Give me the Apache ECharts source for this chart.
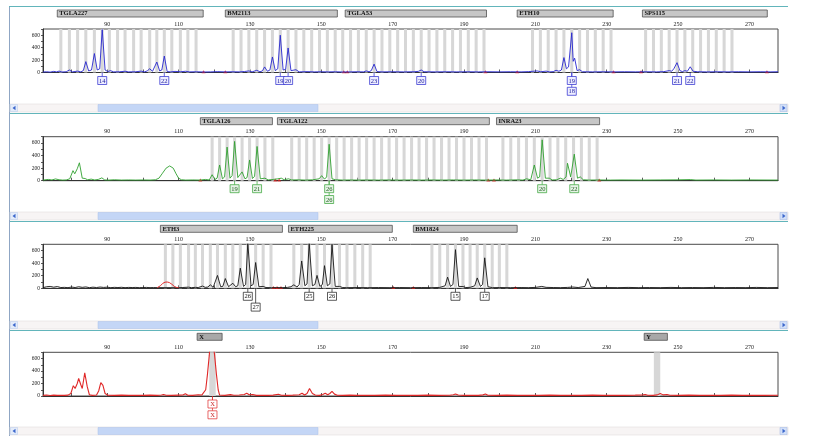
<!DOCTYPE html>
<html>
<head>
<meta charset="utf-8">
<script src="https://cdn.jsdelivr.net/npm/echarts@6/dist/echarts.min.js"></script>
<style>
html,body{margin:0;padding:0;background:#fff;}
#c{width:814px;height:436px;}
</style>
</head>
<body>
<div id="c"></div>
<script>
// ---------- axis data ----------
const X_MIN = 72, X_MAX = 278, Y_MAX = 700;
const xTickValues = [80,90,100,110,120,130,140,150,160,170,180,190,200,210,220,230,240,250,260,270];
const xLabelValues = [90,110,130,150,170,190,210,230,250,270];
const yLabelValues = [0,200,400,600];

// ---------- panel 1 (blue) ----------
const p1Loci = [['TGLA227',76.0,116.9],['BM2113',123.1,154.5],['TGLA53',156.7,196.3],['ETH10',204.9,231.8],['SPS115',240.0,275.0]];
const p1Bins = [77.0,79.4,81.7,84.0,86.4,88.6,90.6,92.9,95.0,97.4,99.5,101.9,103.9,106.0,108.1,110.5,112.6,114.9,
  125.3,127.5,129.7,131.9,134.1,136.3,138.5,140.7,142.9,145.1,147.3,149.5,151.7,153.9,
  156.0,158.2,160.4,162.6,164.8,167.0,169.2,171.4,173.6,175.8,178.0,180.2,182.4,184.6,186.8,189.0,191.2,193.4,195.6,
  209.2,211.4,213.6,215.8,218.0,220.2,222.4,224.6,226.8,229.0,231.2,
  240.9,243.1,245.3,247.5,249.7,251.9,254.1,256.3,258.5,260.7,262.9,265.1];
const p1Trace = [[72,8],[73,12],[74,6],[75,18],[75.8,10],[76.5,22],[77.3,8],[78.5,12],[79.4,40],[80.2,10],[81.7,22],[82.6,10],[83.3,30],[84.0,175],[84.8,25],[85.6,40],[86.4,305],[87.2,40],[87.9,60],[88.6,690],[89.4,40],[90.2,15],[90.9,30],[91.8,10],[93.5,12],[95.0,20],[96,10],[98,12],[99.5,22],[100.4,10],[101.2,25],[101.9,60],[102.7,20],[103.2,35],[103.9,168],[104.7,25],[105.3,40],[106.0,265],[106.8,15],[107.8,10],[109,18],[110.5,12],[112,20],[113,10],[115,12],[117,8],[119,10],[121,14],[123,10],[125,12],[127,10],[128.5,16],[129.7,25],[130.6,10],[131.9,35],[132.8,12],[133.5,25],[134.1,90],[134.9,20],[135.6,40],[136.3,250],[137.1,30],[137.8,60],[138.5,600],[139.3,40],[140,50],[140.7,395],[141.5,30],[142.9,45],[143.8,10],[146,14],[148,10],[150,12],[152,10],[154,12],[156,8],[158,10],[160,12],[161.8,10],[162.6,25],[163.4,12],[164.0,30],[164.8,135],[165.6,15],[167,10],[170,12],[173,10],[176,12],[177.2,18],[178.0,40],[178.8,12],[182,10],[185,12],[188,10],[191,12],[194,10],[197,12],[200,10],[203,12],[206,10],[208,14],[210.5,25],[211.5,12],[213,22],[214,10],[215.0,14],[215.8,35],[216.6,20],[217.3,40],[218.0,240],[218.7,60],[219.3,90],[219.7,60],[220.2,640],[220.6,180],[221.0,230],[221.7,30],[222.4,45],[223.2,12],[226,10],[229,12],[232,10],[235,12],[238,10],[241,12],[244,10],[246,14],[247.5,30],[248.2,20],[248.8,60],[249.7,158],[250.5,30],[251.2,15],[251.9,30],[252.6,20],[253.4,92],[254.2,20],[255.5,12],[258,10],[261,12],[264,10],[267,12],[270,10],[273,12],[276,10],[278,12]];
const p1Std = [117.0,123.1,156.3,157.3,196.0,204.9,231.9,239.6,274.9];
const p1Alleles = [[88.6,0,'14'],[106.0,0,'22'],[138.5,0,'19'],[140.7,0,'20'],[164.8,0,'23'],[178.0,0,'20'],[220.2,0,'19'],[220.2,1,'18'],[249.7,0,'21'],[253.4,0,'22']];

// ---------- panel 2 (green) ----------
const p2Loci = [['TGLA126',116.1,136.3],['TGLA122',137.7,197.1],['INRA23',199.1,228.0]];
const p2Bins = [119.4,121.5,123.6,125.7,127.8,129.9,132.0,134.2,136.4,
  141.7,143.8,145.9,148.0,150.1,152.2,154.3,156.4,158.5,160.6,162.7,164.8,166.9,169.0,171.1,173.2,175.3,177.4,179.5,181.6,183.7,185.8,187.9,190.0,192.1,194.2,196.3,
  200.9,203.1,205.3,207.5,209.7,211.9,214.1,216.3,218.5,220.7,222.9,225.1,227.3];
const p2Trace = [[72,10],[73.5,20],[74.5,12],[75.5,28],[76.5,15],[77.5,10],[78.5,12],[79.5,30],[80.4,160],[80.9,110],[81.6,190],[82.2,285],[83,40],[83.8,35],[84.5,15],[85.5,25],[86.5,12],[87.5,20],[88.5,45],[89.3,12],[90.5,10],[92,15],[94,10],[96,12],[98,10],[100,12],[102,10],[103.5,15],[104.5,40],[105.5,120],[106.5,200],[107.5,235],[108.5,200],[109.3,110],[110,40],[110.8,15],[112,10],[114,12],[116,10],[117.5,20],[118.6,12],[119.4,95],[120.2,20],[120.8,40],[121.5,250],[122.3,30],[122.9,60],[123.6,535],[124.4,40],[125.0,80],[125.7,625],[126.6,50],[127.8,140],[128.6,30],[129.2,50],[129.9,330],[130.7,35],[131.3,70],[132.0,545],[132.9,30],[134.2,40],[135.1,12],[136.5,20],[137.8,30],[138.8,40],[139.6,15],[140.8,30],[141.7,12],[143.5,14],[145.5,10],[147.5,14],[149.4,30],[150.1,80],[150.9,25],[151.5,60],[152.2,580],[153,30],[154,15],[156,10],[158,12],[160,10],[163,12],[166,10],[169,12],[172,10],[175,12],[178,10],[181,12],[184,10],[187,12],[190,10],[193,12],[196,10],[199,12],[202,10],[205,14],[206.5,10],[207.5,30],[208.7,15],[209.7,250],[210.6,40],[211.2,60],[211.9,650],[212.8,40],[213.9,40],[214.7,12],[216,15],[217.0,40],[217.8,20],[218.6,60],[219.0,278],[219.9,60],[220.9,422],[221.8,40],[222.6,60],[223.4,15],[225,10],[228,12],[231,10],[234,12],[240,10],[245,12],[250,14],[253.4,18],[255,10],[260,12],[265,10],[270,12],[278,10]];
const p2Std = [116.1,137.1,138.2,196.8,198.4,227.9];
const p2Alleles = [[125.7,0,'19'],[132.0,0,'21'],[152.2,0,'26'],[152.2,1,'26'],[211.9,0,'20'],[220.9,0,'22']];

// ---------- panel 3 (black) ----------
const p3Loci = [['ETH3',104.9,139.1],['ETH225',140.8,169.9],['BM1824',175.8,204.9]];
const p3Bins = [106.3,108.4,110.5,112.8,114.7,116.7,118.9,120.9,123.1,125.2,127.3,129.4,131.6,133.7,135.9,
  142.3,144.5,146.6,148.8,150.9,153.0,155.1,157.2,159.4,161.6,163.7,
  181.0,183.2,185.4,187.6,189.7,191.7,193.7,195.8,197.9,199.9,202.0];
const p3Trace = [[72,10],[73,25],[74,30],[75,18],[76,28],[77,12],[78,15],[79,10],[80,20],[81,12],[82,25],[83,15],[84,22],[85,10],[86,18],[87,12],[88,20],[89,14],[90,18],[91,10],[92,15],[93,12],[94,16],[95,10],[96,14],[97,12],[98,14],[99,10],[100,12],[101,14],[102,10],[103,12],[104,10],[110,10],[111,12],[112.8,18],[113.6,10],[114.7,15],[115.5,12],[116.7,35],[117.5,15],[118.2,20],[118.9,55],[119.7,15],[120.2,30],[120.9,205],[121.8,25],[122.4,30],[123.1,155],[124,25],[125.2,80],[126,25],[126.6,40],[127.3,320],[128.2,30],[128.8,60],[129.4,720],[130.3,40],[130.9,60],[131.6,410],[132.5,25],[133.7,30],[134.5,12],[136,10],[137.5,12],[139,10],[140.5,14],[141.5,25],[142.3,55],[143.2,20],[143.8,60],[144.5,435],[145.4,40],[146.0,70],[146.6,720],[147.5,40],[148.2,60],[148.8,205],[149.6,30],[150.3,60],[150.9,360],[151.7,40],[152.4,70],[153.0,700],[153.9,30],[155.1,30],[156,12],[157,10],[160,12],[163,10],[166,12],[169,10],[172,12],[175,10],[178,12],[181,10],[183.2,14],[184.7,40],[185.4,178],[186.2,30],[186.9,60],[187.6,615],[188.5,30],[189.7,28],[190.5,12],[191.7,15],[193.0,40],[193.7,165],[194.6,30],[195.2,60],[195.8,485],[196.7,25],[198,10],[200,12],[203,10],[206,12],[208,10],[210,14],[211.8,30],[213,15],[215,12],[217,10],[219,14],[220.5,20],[222,12],[223.9,30],[224.7,155],[225.6,20],[227,10],[230,12],[233,10],[236,14],[239,10],[242,12],[245,10],[248,14],[251,10],[254,12],[257,10],[260,14],[263,10],[266,12],[269,10],[272,14],[275,10],[278,12]];
const p3Std = [136.6,137.6,138.7,170.2,175.8,204.4];
const p3Hump = [[104.0,10],[104.9,40],[105.6,80],[106.2,97],[106.8,100],[107.4,92],[108.1,65],[108.8,30],[109.5,12],[110,10]];
const p3Alleles = [[129.4,0,'26'],[131.6,1,'27'],[146.6,0,'25'],[153.0,0,'26'],[187.6,0,'15'],[195.8,0,'17']];

// ---------- panel 4 (red) ----------
const p4Loci = [['X',115.2,122.2],['Y',240.5,247.0]];
const p4Bins = [119.5,244.1];
const p4Trace = [[72,10],[73,15],[74,8],[75,14],[76,10],[77,12],[78,10],[79,14],[79.8,40],[80.5,165],[81,120],[81.6,200],[82,280],[82.6,180],[83,120],[83.7,370],[84.4,150],[85,20],[85.8,10],[87,15],[87.6,80],[88.2,215],[88.8,170],[89.4,40],[90.2,12],[92,10],[94,14],[96,10],[98,12],[100,10],[102,14],[104,10],[105.2,15],[105.8,25],[106.5,12],[108,10],[110,14],[111.2,15],[111.9,35],[112.6,12],[114,10],[115.5,20],[116.5,15],[117.0,20],[117.6,100],[118.1,350],[118.6,650],[119.2,1100],[119.5,1100],[120.1,650],[120.6,350],[121.1,100],[121.5,15],[123,10],[124.5,22],[125.5,12],[127,15],[128.4,25],[129.1,45],[129.8,20],[130.8,25],[131.8,10],[133,12],[135,10],[136.5,14],[138,28],[138.8,12],[140.5,10],[142,14],[143.8,20],[144.6,45],[145.3,15],[146,40],[146.7,120],[147.5,40],[148.3,15],[149.5,10],[150.4,25],[151.1,45],[151.8,20],[152.4,40],[153,75],[153.7,30],[154.5,12],[156,10],[158,14],[160,10],[162,12],[165,10],[168,14],[171,10],[174,12],[177,10],[180,14],[183,10],[186,12],[187,20],[187.6,32],[188.4,15],[190,10],[192,12],[194,10],[195.3,18],[196,32],[196.7,12],[199,10],[202,14],[205,10],[208,12],[211,10],[214,14],[217,10],[220,12],[223,10],[226,14],[229,10],[232,12],[235,10],[238,14],[240.2,18],[240.8,25],[241.5,12],[243,10],[244.2,18],[245,40],[245.8,18],[246.9,25],[247.7,12],[250,10],[253,14],[256,10],[259,12],[262,10],[265,14],[268,10],[271,12],[274,10],[278,12]];
const p4Std = [];
const p4Alleles = [[119.5,0,'X'],[119.5,1,'X']];

// ---------- build ----------
const panels = [
  {loci:p1Loci, bins:p1Bins, trace:p1Trace, std:p1Std, hump:null, alleles:p1Alleles},
  {loci:p2Loci, bins:p2Bins, trace:p2Trace, std:p2Std, hump:null, alleles:p2Alleles},
  {loci:p3Loci, bins:p3Bins, trace:p3Trace, std:p3Std, hump:p3Hump, alleles:p3Alleles},
  {loci:p4Loci, bins:p4Bins, trace:p4Trace, std:p4Std, hump:null, alleles:p4Alleles}
];
const looks = [
  {top:29,    height:43.5, color:'#2626cf', binW:0.85, boxFill:'#eeeeff', boxText:'#2222a0', headFill:'#c6c6c6', lw:0.9},
  {top:136.7, height:44,   color:'#30a030', binW:0.85, boxFill:'#e6f3e6', boxText:'#1c5a1c', headFill:'#c6c6c6', lw:0.9},
  {top:244.3, height:44,   color:'#161616', binW:0.85, boxFill:'#ffffff', boxText:'#111111', headFill:'#c6c6c6', lw:0.9},
  {top:352.3, height:43.7, color:'#e02828', binW:1.8,  boxFill:'#ffffff', boxText:'#c81e1e', headFill:'#a8a8a8', lw:1.1}
];
const FONT = '"Liberation Serif", "DejaVu Serif", serif';

const grid = [], xAxis = [], yAxis = [], series = [];
panels.forEach((p, i) => {
  const st = looks[i];
  grid.push({left:43, right:36, top:st.top, height:st.height, show:true, borderColor:'#4a4a4a', borderWidth:1, backgroundColor:'#ffffff'});
  xAxis.push({gridIndex:i, type:'value', position:'top', min:X_MIN, max:X_MAX,
    axisLine:{show:true, lineStyle:{color:'#333', width:1}},
    axisTick:{show:true, length:3, customValues:xTickValues, lineStyle:{color:'#333', width:0.8}},
    axisLabel:{customValues:xLabelValues, fontSize:6, margin:2, color:'#222', fontFamily:FONT},
    splitLine:{show:false}});
  yAxis.push({gridIndex:i, type:'value', min:0, max:Y_MAX, interval:100,
    axisLine:{show:true, lineStyle:{color:'#333', width:1}},
    axisTick:{show:true, length:2, lineStyle:{color:'#333', width:0.8}},
    axisLabel:{fontSize:5.5, margin:3, color:'#222', fontFamily:FONT,
      formatter: v => yLabelValues.indexOf(v) >= 0 ? String(v) : ''},
    splitLine:{show:false}});

  // bins
  series.push({type:'custom', xAxisIndex:i, yAxisIndex:i, z:1, silent:true, encode:{x:0, y:1},
    data:p.bins.map(b => [b, 0]),
    renderItem:(params, api) => {
      const x = api.value(0);
      const a = api.coord([x - st.binW/2, Y_MAX]);
      const b = api.coord([x + st.binW/2, 0]);
      return {type:'rect', shape:{x:a[0], y:a[1], width:b[0]-a[0], height:b[1]-a[1]}, style:{fill:'#d7d7d7'}};
    }});
  // locus headers
  series.push({type:'custom', xAxisIndex:i, yAxisIndex:i, z:5, silent:true, clip:false, encode:{x:[0,1], y:2},
    data:p.loci.map(l => [l[1], l[2], 0]),
    renderItem:(params, api) => {
      const a = api.coord([api.value(0), Y_MAX]);
      const b = api.coord([api.value(1), Y_MAX]);
      const top = a[1] - 19;
      return {type:'group', children:[
        {type:'rect', shape:{x:a[0], y:top, width:b[0]-a[0], height:7}, style:{fill:st.headFill, stroke:'#505050', lineWidth:0.8}},
        {type:'text', style:{text:p.loci[params.dataIndex][0], x:a[0]+2, y:top+3.8, align:'left', verticalAlign:'middle',
          fontSize:6.5, fontWeight:'bold', fontFamily:FONT, fill:'#111'}}
      ]};
    }});
  // trace
  series.push({type:'line', xAxisIndex:i, yAxisIndex:i, z:4, silent:true, data:p.trace, symbol:'none', showSymbol:false,
    lineStyle:{color:st.color, width:st.lw}});
  if (p.hump) {
    series.push({type:'line', xAxisIndex:i, yAxisIndex:i, z:4, silent:true, data:p.hump, symbol:'none', showSymbol:false,
      lineStyle:{color:'#e03030', width:1}});
  }
  if (p.std.length) {
    series.push({type:'scatter', xAxisIndex:i, yAxisIndex:i, z:3, silent:true, data:p.std.map(x => [x, 12]),
      symbol:'triangle', symbolSize:[4,3], itemStyle:{color:'#e02020'}});
  }
  // allele connectors
  series.push({type:'custom', xAxisIndex:i, yAxisIndex:i, z:5, silent:true, clip:false, encode:{x:0, y:1},
    data:p.alleles.map(a => [a[0], a[1]]),
    renderItem:(params, api) => {
      const row = api.value(1);
      const base = api.coord([api.value(0), 0]);
      const top = base[1] + 4 + row*10.8;
      return {type:'line', shape:{x1:base[0], y1:base[1], x2:base[0], y2:top}, style:{stroke:st.color, lineWidth:0.7}};
    }});
  // allele boxes
  series.push({type:'custom', xAxisIndex:i, yAxisIndex:i, z:6, silent:true, clip:false, encode:{x:0, y:1},
    data:p.alleles.map(a => [a[0], a[1]]),
    renderItem:(params, api) => {
      const row = api.value(1);
      const base = api.coord([api.value(0), 0]);
      const top = base[1] + 4 + row*10.8;
      return {type:'group', children:[
        {type:'rect', shape:{x:base[0]-4.5, y:top, width:9, height:8}, style:{fill:st.boxFill, stroke:st.color, lineWidth:0.7}},
        {type:'text', style:{text:p.alleles[params.dataIndex][2], x:base[0], y:top+4.3, align:'center', verticalAlign:'middle',
          fontSize:6.5, fontFamily:FONT, fill:st.boxText}}
      ]};
    }});
});

// window chrome: borders and scroll bars
const graphic = [];
graphic.push({type:'line', silent:true, shape:{x1:9.5, y1:6, x2:9.5, y2:436}, style:{stroke:'#8fa6c4', lineWidth:1}});
graphic.push({type:'line', silent:true, shape:{x1:9, y1:6.5, x2:788, y2:6.5}, style:{stroke:'#62b5bb', lineWidth:1.2}});
[104, 212, 321, 427].forEach((y, i) => {
  graphic.push({type:'rect', silent:true, shape:{x:10, y:y, width:778, height:8}, style:{fill:'#f7f4f4', stroke:'#e2dede', lineWidth:0.6}});
  graphic.push({type:'rect', silent:true, shape:{x:98, y:y+0.5, width:220, height:7}, style:{fill:'#c4d6f6', stroke:'#aac0ea', lineWidth:0.5}});
  graphic.push({type:'rect', silent:true, shape:{x:10.5, y:y+0.5, width:7, height:7}, style:{fill:'#e4ecfa', stroke:'#b7c8ea', lineWidth:0.5}});
  graphic.push({type:'polygon', silent:true, shape:{points:[[15.5,y+1.8],[12.5,y+4],[15.5,y+6.2]]}, style:{fill:'#3b66cc'}});
  graphic.push({type:'rect', silent:true, shape:{x:780, y:y+0.5, width:7, height:7}, style:{fill:'#d3e0f8', stroke:'#9fb6e6', lineWidth:0.5}});
  graphic.push({type:'polygon', silent:true, shape:{points:[[782.5,y+1.8],[785.5,y+4],[782.5,y+6.2]]}, style:{fill:'#3b66cc'}});
  if (i < 3) graphic.push({type:'line', silent:true, shape:{x1:10, y1:y+9.5, x2:788, y2:y+9.5}, style:{stroke:'#62b5bb', lineWidth:1.2}});
});

const chart = echarts.init(document.getElementById('c'), null, {renderer:'canvas'});
chart.setOption({
  animation:false,
  backgroundColor:'#ffffff',
  grid, xAxis, yAxis, series, graphic
});
</script>
</body>
</html>
